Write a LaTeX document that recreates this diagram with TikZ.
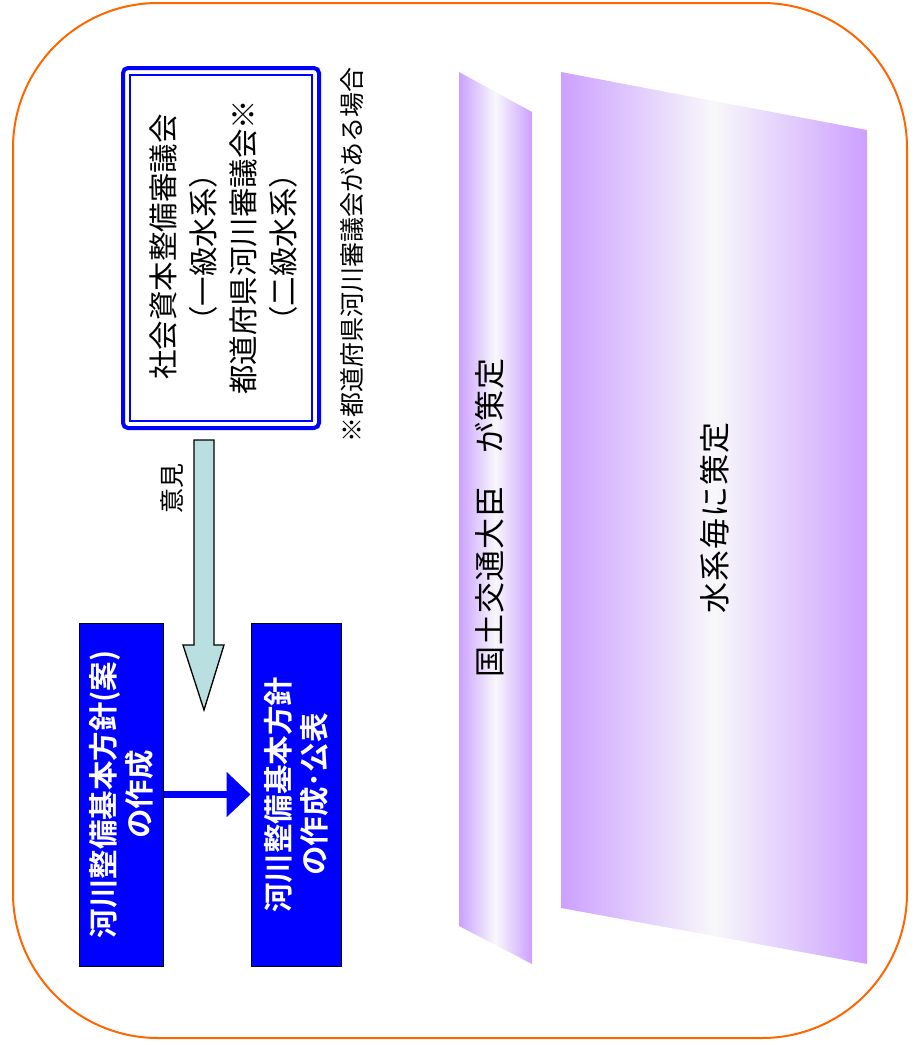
\documentclass[tikz,border=0pt]{standalone}
\usepackage{fontspec}
\setmainfont{Noto Sans CJK JP}
\newfontfamily\jpwide{Noto Sans CJK JP}
\newfontfamily\jpnote{Noto Sans CJK JP}
\newfontfamily\jpband[LetterSpace=3]{Noto Sans CJK JP}
\newfontfamily\jpbold{Noto Sans CJK JP Bold}
\usetikzlibrary{arrows.meta}
\definecolor{frameorange}{RGB}{255,102,0}
\definecolor{bandpurple}{RGB}{204,160,255}
\definecolor{bandwhite}{RGB}{248,248,250}
\definecolor{arrowfill}{RGB}{185,223,225}
\definecolor{pureblue}{RGB}{0,0,255}
\tikzset{
  bluebox/.style={rotate=90, draw=black, line width=1pt, fill=pureblue,
    text=white, align=center, minimum width=343pt, minimum height=84pt,
    inner sep=0pt, font=\jpbold\fontsize{29.5}{36}\selectfont},
  band/.style={left color=bandpurple, right color=bandpurple, middle color=bandwhite, draw=none},
  bandtext/.style={rotate=90, font=\jpband\fontsize{31}{36}\selectfont},
  vtext/.style={rotate=90, align=center}
}
\begin{document}
\begin{tikzpicture}[x=1pt,y=-1pt]
\useasboundingbox (0,0) rectangle (923,1045);
% outer frame
\draw[frameorange, line width=2pt, rounded corners=145pt] (13,3) rectangle (907,1038);
% bands
\path[band] (459,72) -- (532,112) -- (532,964) -- (459,926) -- cycle;
\path[band] (561,72) -- (867,130) -- (867,964) -- (561,908) -- cycle;
\node[bandtext] (minister) at (490,518) {国土交通大臣　が策定};
\node[bandtext] (perwater) at (715,518) {水系毎に策定};
% council double box
\draw[pureblue, line width=4pt, rounded corners=5pt] (123,68) rectangle (319,428);
\draw[pureblue, line width=2pt] (130,75) rectangle (312,421);
\node[vtext, font=\jpwide\fontsize{29.5}{40}\selectfont] (council) at (223,247)
  {社会資本整備審議会\\（一級水系）\\都道府県河川審議会※\\（二級水系）};
\node[vtext, font=\jpnote\fontsize{25}{25}\selectfont] (note) at (352,255) {※都道府県河川審議会がある場合};
% opinion block arrow
\draw[black, line width=1.3pt, fill=arrowfill, line join=miter]
  (194,440) -- (214,440) -- (214,645) -- (224,645) -- (204,710) -- (183,645) -- (194,645) -- cycle;
\node[vtext, font=\jpnote\fontsize{25}{25}\selectfont] (opinion) at (172,488) {意見};
% blue boxes
\node[bluebox] (draft) at (121.5,794.5) {河川整備基本方針(案)\\の作成};
\node[bluebox, minimum height=90pt] (final) at (296,794.5) {河川整備基本方針\\の作成･公表};
\draw[pureblue, line width=7pt, -{Triangle[length=24pt, width=44pt]}] (draft) -- (final);
\end{tikzpicture}
\end{document}
